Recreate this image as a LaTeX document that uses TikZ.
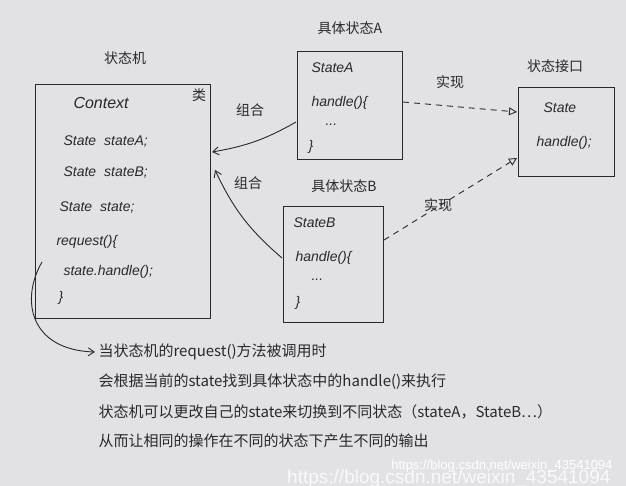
\documentclass[tikz,border=0pt]{standalone}
\usepackage{fontspec}
\setmainfont{Liberation Sans}
\newfontfamily\cjk{Noto Sans CJK SC}
\usetikzlibrary{arrows.meta}
\definecolor{bg}{RGB}{226,226,230}
\definecolor{ink}{RGB}{40,40,45}
\begin{document}
\begin{tikzpicture}[x=1pt,y=-1pt,
  box/.style={draw=ink,line width=1pt},
  lbl/.style={text=ink,font=\cjk\fontsize{14}{16}\selectfont},
  code/.style={text=ink,font=\fontsize{14}{16}\selectfont\itshape,anchor=west},
  note/.style={text=ink,font=\cjk\fontsize{15}{18}\selectfont,anchor=west},
  comp/.style={draw=ink,line width=0.9pt,-{Straight Barb[length=6pt,width=8pt]}},
  impl/.style={draw=ink,line width=0.9pt,dashed,dash pattern=on 6pt off 5pt,-{Triangle[open,length=8pt,width=8pt]}}]
\fill[bg] (0,0) rectangle (626,486);
\useasboundingbox (0,0) rectangle (626,486);
% boxes
\draw[box] (35,85) rectangle (210,318);
\node[coordinate] (ctxA) at (212,152) {};
\node[coordinate] (ctxB) at (215,170) {};
\node[coordinate] (ctxL) at (42,262) {};
\draw[box] (297,52) rectangle (402,160);
\node[coordinate] (saL) at (296,122) {};
\node[coordinate] (saR) at (403,102) {};
\draw[box] (283,207) rectangle (383,322);
\node[coordinate] (sbL) at (282,258) {};
\node[coordinate] (sbR) at (384,240) {};
\draw[box] (518,88) rectangle (614,177);
\node[coordinate] (siA) at (517,112) {};
\node[coordinate] (siB) at (517,158) {};
% titles
\node[lbl] (t1) at (125,58) {状态机};
\node[lbl] (t2) at (350,28) {具体状态A};
\node[lbl] (t3) at (344,186) {具体状态B};
\node[lbl] (t4) at (555,66) {状态接口};
\node[lbl] (t5) at (199,95) {类};
% context content
\node[code] (c1) at (70,103) {\fontsize{16}{18}\selectfont Context};
\node[code] (c2) at (60,142) {State\hspace{8pt}stateA;};
\node[code] (c3) at (60,173) {State\hspace{8pt}stateB;};
\node[code] (c4) at (56,208) {State\hspace{8pt}state;};
\node[code] (c5) at (53,242) {request()\{};
\node[code] (c6) at (60,272) {state.handle();};
\node[code] (c7) at (55,298) {\}};
% StateA
\node[code] (a1) at (308,68) {StateA};
\node[code] (a2) at (308,103) {handle()\{};
\node[code] (a3) at (322,125) {...};
\node[code] (a4) at (305,147) {\}};
% StateB
\node[code] (b1) at (290,223) {StateB};
\node[code] (b2) at (292,258) {handle()\{};
\node[code] (b3) at (308,280) {...};
\node[code] (b4) at (292,303) {\}};
% interface
\node[code] (i1) at (540,108) {State};
\node[code] (i2) at (533,143) {handle();};
% arrows
\draw[comp] (saL) to[bend left=10] (ctxA);
\node[lbl] (l1) at (250,110) {组合};
\draw[comp] (sbL) to[bend left=12] (ctxB);
\node[lbl] (l2) at (248,183) {组合};
\draw[impl] (saR) -- (siA);
\node[lbl] (l3) at (450,82) {实现};
\draw[impl] (sbR) -- (siB);
\node[lbl] (l4) at (438,205) {实现};
% notes
\node[note] (n1) at (95,352) {当状态机的request()方法被调用时};
\node[note] (n2) at (95,382) {会根据当前的state找到具体状态中的handle()来执行};
\node[note] (n3) at (95,412) {状态机可以更改自己的state来切换到不同状态（stateA，StateB…）};
\node[note] (n4) at (95,441) {从而让相同的操作在不同的状态下产生不同的输出};
\draw[draw=ink,line width=0.9pt,-{Straight Barb[length=6pt,width=8pt]}] (ctxL) .. controls (20,300) and (30,350) .. (n1.west);
% watermarks
\node[text=white,font=\fontsize{13}{15}\selectfont,anchor=east] (w1) at (616,466) {https://blog.csdn.net/weixin\_43541094};
\node[text=white,opacity=0.8,font=\fontsize{19}{21}\selectfont,anchor=east] (w2) at (614,479) {https://blog.csdn.net/weixin\_43541094};
\end{tikzpicture}
\end{document}
